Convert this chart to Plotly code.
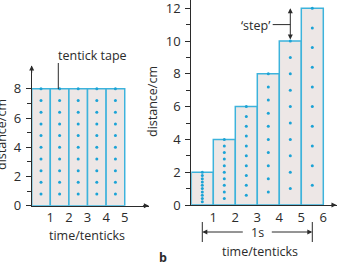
import plotly.graph_objects as go

# ---- data ----
left_times = [1, 2, 3, 4, 5]                 # tentick index
left_heights = [8, 8, 8, 8, 8]               # cm per tentick tape (constant speed)
right_times = [1, 2, 3, 4, 5, 6]
right_heights = [2, 4, 6, 8, 10, 12]         # cm per tape (accelerating)
DOTS_PER_TAPE = 10
left_yticks = [0, 2, 4, 6, 8]
right_yticks = [0, 2, 4, 6, 8, 10, 12]
x_ticks_left = [1, 2, 3, 4, 5]
x_ticks_right = [1, 2, 3, 4, 5, 6]

W, H = 337, 267
FILL = "#ede7e6"
EDGE = "#3db3dc"
DOT = "#1ba3d6"
INK = "#2b2b2b"
FONT = "Open Sans"

def px(x):
    return x / W

def py(y):
    return 1 - y / H

def dots(times, heights):
    xs, ys = [], []
    for t, h in zip(times, heights):
        step = h / DOTS_PER_TAPE
        for i in range(DOTS_PER_TAPE):
            xs.append(t - 0.5)
            ys.append(h - i * step)
    return xs, ys

fig = go.Figure()

# left panel
fig.add_trace(go.Bar(x=[t - 0.5 for t in left_times], y=left_heights, width=1,
                     marker=dict(color=FILL, line=dict(color=EDGE, width=1.5)),
                     xaxis="x", yaxis="y", showlegend=False))
lx, ly = dots(left_times, left_heights)
fig.add_trace(go.Scatter(x=lx, y=ly, mode="markers", marker=dict(color=DOT, size=3),
                         xaxis="x", yaxis="y", showlegend=False, cliponaxis=False))

# right panel
fig.add_trace(go.Bar(x=[t - 0.5 for t in right_times], y=right_heights, width=1,
                     marker=dict(color=FILL, line=dict(color=EDGE, width=1.5)),
                     xaxis="x2", yaxis="y2", showlegend=False))
rx, ry = dots(right_times, right_heights)
fig.add_trace(go.Scatter(x=rx, y=ry, mode="markers", marker=dict(color=DOT, size=3),
                         xaxis="x2", yaxis="y2", showlegend=False, cliponaxis=False))

axis_common = dict(showline=True, linecolor=INK, linewidth=1, showgrid=False,
                   zeroline=False, tickfont=dict(family=FONT, size=13, color=INK),
                   fixedrange=True, automargin=False, ticklabeloverflow="allow")

fig.update_layout(
    width=W, height=H, margin=dict(l=0, r=0, t=0, b=0, autoexpand=False),
    paper_bgcolor="white", plot_bgcolor="white", barmode="overlay",
    xaxis=dict(domain=[31.7 / W, 148.9 / W], range=[0, 6.3], tickvals=x_ticks_left,
               ticks="", anchor="y", **axis_common),
    yaxis=dict(domain=[py(205.7), py(65.5)], range=[0, 9.6], tickvals=left_yticks,
               ticks="outside", ticklen=5, tickcolor=INK, anchor="x", ticklabelstandoff=2,
               minor=dict(tickvals=[1, 3, 5, 7], ticks="outside", ticklen=4, tickcolor=INK),
               **axis_common),
    xaxis2=dict(domain=[191.3 / W, 336.5 / W], range=[0, 6.6], tickvals=x_ticks_right,
                ticks="", anchor="y2", **axis_common),
    yaxis2=dict(domain=[py(205), 1.0], range=[0, 12.5], tickvals=right_yticks,
                ticks="outside", ticklen=5, tickcolor=INK, anchor="x2", ticklabelstandoff=2,
                minor=dict(tickvals=[1, 3, 5, 7, 9, 11], ticks="outside", ticklen=4, tickcolor=INK),
                **axis_common),
)

ann = []
tfont = dict(family=FONT, size=12.5, color=INK)
# axis arrowheads
ann.append(dict(x=0, y=9.6, ax=0, ay=9.0, xref="x", yref="y", axref="x", ayref="y",
                showarrow=True, arrowhead=2, arrowsize=1, arrowwidth=1, arrowcolor=INK, text=""))
ann.append(dict(x=6.3, y=0, ax=5.9, ay=0, xref="x", yref="y", axref="x", ayref="y",
                showarrow=True, arrowhead=2, arrowsize=1, arrowwidth=1, arrowcolor=INK, text=""))
ann.append(dict(x=6.6, y=0, ax=6.3, ay=0, xref="x2", yref="y2", axref="x2", ayref="y2",
                showarrow=True, arrowhead=2, arrowsize=1, arrowwidth=1, arrowcolor=INK, text=""))
# axis titles
ann.append(dict(x=px(87), y=py(235), xref="paper", yref="paper", text="time/tenticks",
                showarrow=False, font=tfont, xanchor="center", yanchor="middle"))
ann.append(dict(x=px(260), y=py(251), xref="paper", yref="paper", text="time/tenticks",
                showarrow=False, font=tfont, xanchor="center", yanchor="middle"))
ann.append(dict(x=px(1), y=py(135), xref="paper", yref="paper", text="distance/cm",
                showarrow=False, font=tfont, textangle=-90, xanchor="center", yanchor="middle"))
ann.append(dict(x=px(152), y=py(102), xref="paper", yref="paper", text="distance/cm",
                showarrow=False, font=tfont, textangle=-90, xanchor="center", yanchor="middle"))
# tentick tape label
ann.append(dict(x=px(92), y=py(55), xref="paper", yref="paper", text="tentick tape",
                showarrow=False, font=tfont, xanchor="center", yanchor="middle"))
# step label and double arrow
ann.append(dict(x=px(255), y=py(25), xref="paper", yref="paper", text="\u2018step\u2019",
                showarrow=False, font=tfont, xanchor="center", yanchor="middle"))
ann.append(dict(x=4.5, y=12, ax=4.5, ay=10, xref="x2", yref="y2", axref="x2", ayref="y2",
                showarrow=True, arrowhead=2, arrowside="end+start", arrowsize=1, arrowwidth=1,
                arrowcolor=INK, text=""))
# 1 s arrow
ann.append(dict(x=px(257), y=py(232), xref="paper", yref="paper", text="1s",
                showarrow=False, font=tfont, xanchor="center", yanchor="middle"))
ann.append(dict(x=0.5, y=py(232), xref="x2", yref="paper", ax=42, ay=0, axref="pixel",
                ayref="pixel", showarrow=True, arrowhead=2, arrowsize=1, arrowwidth=1,
                arrowcolor=INK, text=""))
ann.append(dict(x=5.5, y=py(232), xref="x2", yref="paper", ax=-42, ay=0, axref="pixel",
                ayref="pixel", showarrow=True, arrowhead=2, arrowsize=1, arrowwidth=1,
                arrowcolor=INK, text=""))
# panel letter
ann.append(dict(x=px(163), y=py(257), xref="paper", yref="paper", text="<b>b</b>",
                showarrow=False, font=tfont, xanchor="center", yanchor="middle"))
fig.update_layout(annotations=ann)

shapes = [
    dict(type="line", xref="x", yref="paper", x0=1.43, x1=1.43, y0=py(63), y1=py(89),
         line=dict(color=INK, width=1)),
    dict(type="line", xref="x2", yref="y2", x0=3.7, x1=4.5, y0=11, y1=11,
         line=dict(color=INK, width=1)),
    dict(type="line", xref="x2", yref="paper", x0=0.5, x1=0.5, y0=py(222), y1=py(242),
         line=dict(color=INK, width=1)),
    dict(type="line", xref="x2", yref="paper", x0=5.5, x1=5.5, y0=py(222), y1=py(242),
         line=dict(color=INK, width=1)),
]
fig.update_layout(shapes=shapes)

fig.write_html("out.html", config={"displayModeBar": False})
